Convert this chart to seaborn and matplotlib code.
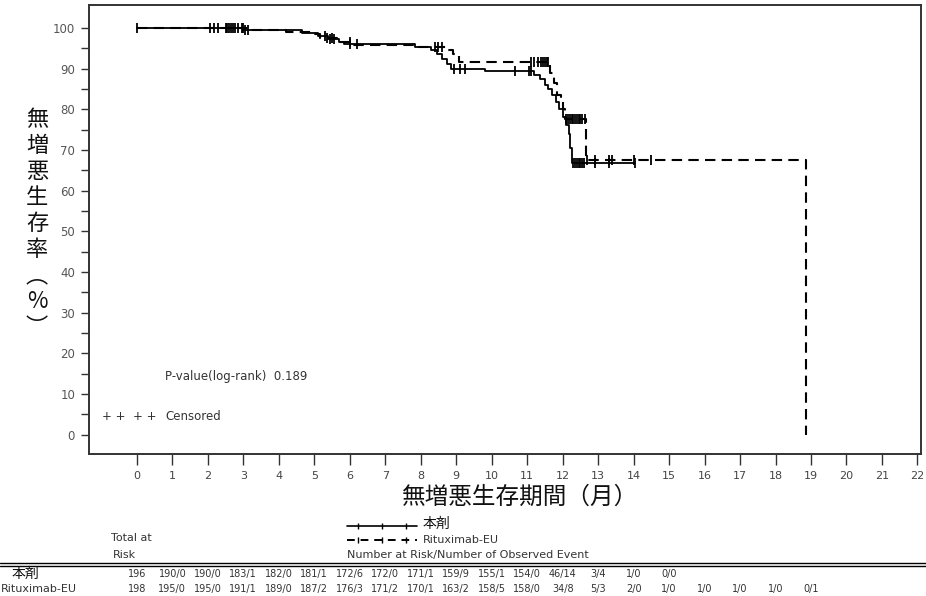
import numpy as np
import pandas as pd
import matplotlib
matplotlib.use("Agg")
import matplotlib.pyplot as plt
from matplotlib.lines import Line2D
from matplotlib.transforms import blended_transform_factory
import seaborn as sns

sns.set_theme(style="white")
plt.rcParams['font.family'] = ['DejaVu Sans', 'Noto Sans CJK JP']
JP = ['Noto Sans CJK JP', 'DejaVu Sans']

# --- Kaplan-Meier step curves: months vs. % progression-free -------------
arm_a_name = "本剤"
arm_a_time = [0, 3.0, 4.65, 5.1, 5.4, 5.7, 5.85, 7.85, 8.3, 8.45, 8.6, 8.75,
              8.85, 9.8, 11.2, 11.35, 11.5, 11.6, 11.7, 11.8, 11.9, 12.0,
              12.1, 12.17, 12.22, 12.27, 14.05]
arm_a_surv = [100, 99.4, 98.8, 98.0, 97.3, 96.6, 95.9, 95.4, 94.6, 93.5, 92.4,
              91.2, 90.0, 89.4, 88.4, 87.3, 86.0, 84.9, 83.4, 81.8, 80.0, 78.0,
              76.0, 74.0, 70.5, 66.8, 66.8]
arm_a_censor = [0.0, 2.06, 2.17, 2.5, 2.6, 2.7, 2.77, 2.96, 3.05, 3.13, 5.3,
                5.45, 5.55, 6.0, 6.2, 8.95, 9.1, 9.25, 10.66, 11.05, 11.1,
                12.3, 12.35, 12.4, 12.45, 12.5, 12.55, 12.6, 12.9, 13.3, 14.05]

arm_b_name = "Rituximab-EU"
arm_b_time = [0, 3.2, 4.2, 4.9, 5.15, 5.65, 6.1, 7.8, 8.7, 8.9, 9.08, 11.65,
              11.75, 11.85, 11.95, 12.02, 12.07, 12.66, 18.86]
arm_b_surv = [100, 99.5, 99.0, 98.4, 97.5, 96.5, 95.7, 95.2, 94.6, 93.6, 91.5,
              88.9, 86.5, 83.5, 81.9, 80.0, 77.6, 67.6, 0]
arm_b_censor = [2.3, 2.55, 2.65, 2.85, 3.0, 5.35, 5.5, 6.0, 8.4, 8.5, 8.6,
                11.1, 11.2, 11.3, 11.4, 11.45, 11.5, 11.55, 11.6, 12.1, 12.15,
                12.2, 12.25, 12.3, 12.35, 12.4, 12.45, 12.5, 12.55, 12.64,
                12.68, 12.92, 13.3, 13.4, 14.0, 14.5]

# --- number at risk / number of observed events per month ---------------
risk_a = ["196", "190/0", "190/0", "183/1", "182/0", "181/1", "172/6", "172/0",
          "171/1", "159/9", "155/1", "154/0", "46/14", "3/4", "1/0", "0/0"]
risk_b = ["198", "195/0", "195/0", "191/1", "189/0", "187/2", "176/3", "171/2",
          "170/1", "163/2", "158/5", "158/0", "34/8", "5/3", "2/0", "1/0",
          "1/0", "1/0", "1/0", "0/1"]

x_ticks = list(range(0, 23))
y_ticks = list(range(0, 101, 10))

p_value_text = "P-value(log-rank)  0.189"


def surv_at(times, surv, t):
    idx = np.searchsorted(times, t, side="right") - 1
    return np.asarray(surv)[np.clip(idx, 0, len(surv) - 1)]


fig = plt.figure(figsize=(9.26, 5.96), dpi=100)
ax = fig.add_axes([0.0961, 0.2383, 0.8985, 0.7533])

df_a = pd.DataFrame({"month": arm_a_time, "surv": arm_a_surv})
df_b = pd.DataFrame({"month": arm_b_time, "surv": arm_b_surv})

sns.lineplot(data=df_a, x="month", y="surv", estimator=None, sort=False,
             drawstyle="steps-post", color="black", lw=1.3, ax=ax)
sns.lineplot(data=df_b, x="month", y="surv", estimator=None, sort=False,
             drawstyle="steps-post", color="black", lw=1.5,
             linestyle=(0, (5, 3)), ax=ax)

cen_a = pd.DataFrame({"month": arm_a_censor,
                      "surv": surv_at(arm_a_time, arm_a_surv, arm_a_censor)})
cen_b = pd.DataFrame({"month": arm_b_censor,
                      "surv": surv_at(arm_b_time, arm_b_surv, arm_b_censor)})
for cen in (cen_a, cen_b):
    sns.scatterplot(data=cen, x="month", y="surv", marker="|", s=55,
                    color="black", linewidth=1.3, ax=ax, zorder=3)

ax.set_xlim(-1.35, 22.1)
ax.set_ylim(-4.7, 105.6)
ax.set_xticks(x_ticks)
ax.set_yticks(y_ticks)
ax.set_yticks(np.arange(5, 100, 10), minor=True)
ax.set_xlabel("")
ax.set_ylabel("")
ax.tick_params(axis="x", which="major", bottom=True, direction="out",
               length=8, width=1, pad=4, labelsize=8, labelcolor="#444",
               color="#333")
ax.tick_params(axis="y", which="both", left=True, direction="out",
               length=6, width=1, pad=4, labelsize=8.5, labelcolor="#555",
               color="#333")
for sp in ax.spines.values():
    sp.set_color("#333")
    sp.set_linewidth(1.4)

ax.text(0.79, 14.3, p_value_text, fontsize=8.5, color="#333", va="center")
ax.text(-0.98, 4.4, "+ +  + +", fontsize=8.5, color="#333", va="center")
ax.text(0.79, 4.4, "Censored", fontsize=8.5, color="#333", va="center")

# vertical y-axis title
ylab = "\n".join(list("無増悪生存率") + ["︵", "%", "︶"])
fig.text(37 / 926, 0.625, ylab, family=JP, fontsize=16, ha="center",
         va="center", linespacing=1.17, color="#111")
fig.text(0.5616, 0.166, "無増悪生存期間（月）", family=JP, fontsize=17,
         ha="center", va="center", color="#111")

# legend under the axis
ly1, ly2 = 1 - 526 / 596, 1 - 540 / 596
lx0, lx1 = 347 / 926, 417 / 926
fig.add_artist(Line2D([lx0, lx1], [ly1, ly1], transform=fig.transFigure,
                      color="black", lw=1.2))
fig.add_artist(Line2D(np.linspace(lx0 + 0.012, lx1 - 0.012, 3), [ly1] * 3,
                      transform=fig.transFigure, color="black", ls="",
                      marker="|", ms=5, mew=1.0))
fig.add_artist(Line2D([lx0, lx1], [ly2, ly2], transform=fig.transFigure,
                      color="black", lw=1.4, ls=(0, (4, 3))))
fig.add_artist(Line2D(np.linspace(lx0 + 0.012, lx1 - 0.012, 3), [ly2] * 3,
                      transform=fig.transFigure, color="black", ls="",
                      marker="|", ms=5, mew=1.0))
fig.text(423 / 926, ly1 + 0.003, arm_a_name, family=JP, fontsize=10,
         va="center", color="#111")
fig.text(423 / 926, ly2, arm_b_name, fontsize=8, va="center", color="#333")
fig.text(lx0, 1 - 555 / 596, "Number at Risk/Number of Observed Event",
         fontsize=8, va="center", color="#333")

# number-at-risk table aligned with the month ticks
tr = blended_transform_factory(ax.transData, fig.transFigure)
ax.text(-0.15, 1 - 538 / 596, "Total at", transform=tr, fontsize=8,
        ha="center", va="center", color="#333")
ax.text(-0.35, 1 - 555 / 596, "Risk", transform=tr, fontsize=8,
        ha="center", va="center", color="#333")
for yy in (1 - 563 / 596, 1 - 566 / 596):
    fig.add_artist(Line2D([0, 1], [yy, yy], transform=fig.transFigure,
                          color="black", lw=1.0))
row_a_y, row_b_y = 1 - 574 / 596, 1 - 589 / 596
fig.text(12 / 926, row_a_y, arm_a_name, family=JP, fontsize=10,
         va="center", color="#111")
fig.text(1 / 926, row_b_y, arm_b_name, fontsize=8, va="center", color="#333")
for i, v in enumerate(risk_a):
    ax.text(x_ticks[i], row_a_y, v, transform=tr, fontsize=7, ha="center",
            va="center", color="#333")
for i, v in enumerate(risk_b):
    ax.text(x_ticks[i], row_b_y, v, transform=tr, fontsize=7, ha="center",
            va="center", color="#333")

fig.savefig("out.png", dpi=100)
